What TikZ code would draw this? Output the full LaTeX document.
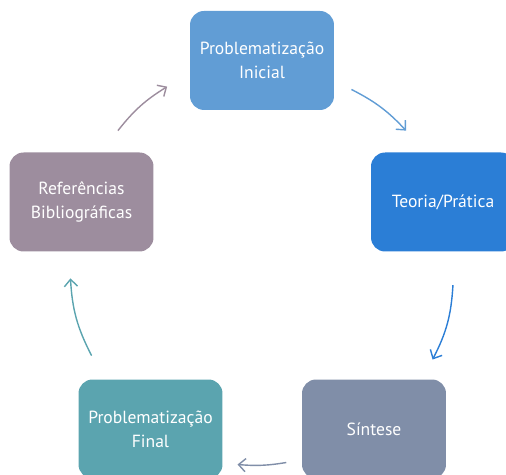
\documentclass[tikz,border=0pt]{standalone}
\usepackage{fontspec}
\setmainfont{PT Sans}
\usetikzlibrary{arrows.meta}

\definecolor{azulclaro}{HTML}{619DD5}
\definecolor{azulforte}{HTML}{2B7ED6}
\definecolor{cinzaazul}{HTML}{808EA8}
\definecolor{verdeagua}{HTML}{5BA4AF}
\definecolor{lilas}{HTML}{9D8D9E}

\tikzset{
  etapa/.style={rectangle, rounded corners=0.28cm, minimum width=2.88cm, minimum height=1.98cm,
    text=white, align=center, font=\fontsize{10}{13.5}\selectfont},
  seta/.style={line width=0.8pt, -{Straight Barb[length=4pt,width=7.5pt]}}
}

\begin{document}
\begin{tikzpicture}[x=0.02cm, y=0.02cm]
  \useasboundingbox (0,0) rectangle (506,475);
  % etapas do ciclo
  \node[etapa, fill=azulclaro] (PI) at (262,414.5) {Problematização\\Inicial};
  \node[etapa, fill=azulforte] (TP) at (443,273) {Teoria/Prática};
  \node[etapa, fill=cinzaazul] (SI) at (374,46) {Síntese};
  \node[etapa, fill=verdeagua] (PF) at (150.5,46) {Problematização\\Final};
  \node[etapa, fill=lilas] (RB) at (81.5,273) {Referências\\Bibliográficas};
  % pontas das setas
  \coordinate (C) at (262,210);
  \path (C) ++(63:197) coordinate (s1) (C) ++(43:197) coordinate (e1);
  \path (C) ++(-6:192) coordinate (s2) (C) ++(-29:195) coordinate (e2);
  \path (C) ++(-83:199) coordinate (s3) (C) ++(-97:201) coordinate (e3);
  \path (C) ++(208:193) coordinate (s4) (C) ++(184:192) coordinate (e4);
  \path (C) ++(137:197) coordinate (s5) (C) ++(118:202) coordinate (e5);
  % setas
  \draw[seta, azulclaro] (s1) to[bend left=10] (e1);
  \draw[seta, azulforte] (s2) to[bend left=12] (e2);
  \draw[seta, cinzaazul] (s3) to[bend left=7] (e3);
  \draw[seta, verdeagua] (s4) to[bend left=12] (e4);
  \draw[seta, lilas] (s5) to[bend left=10] (e5);
\end{tikzpicture}
\end{document}
